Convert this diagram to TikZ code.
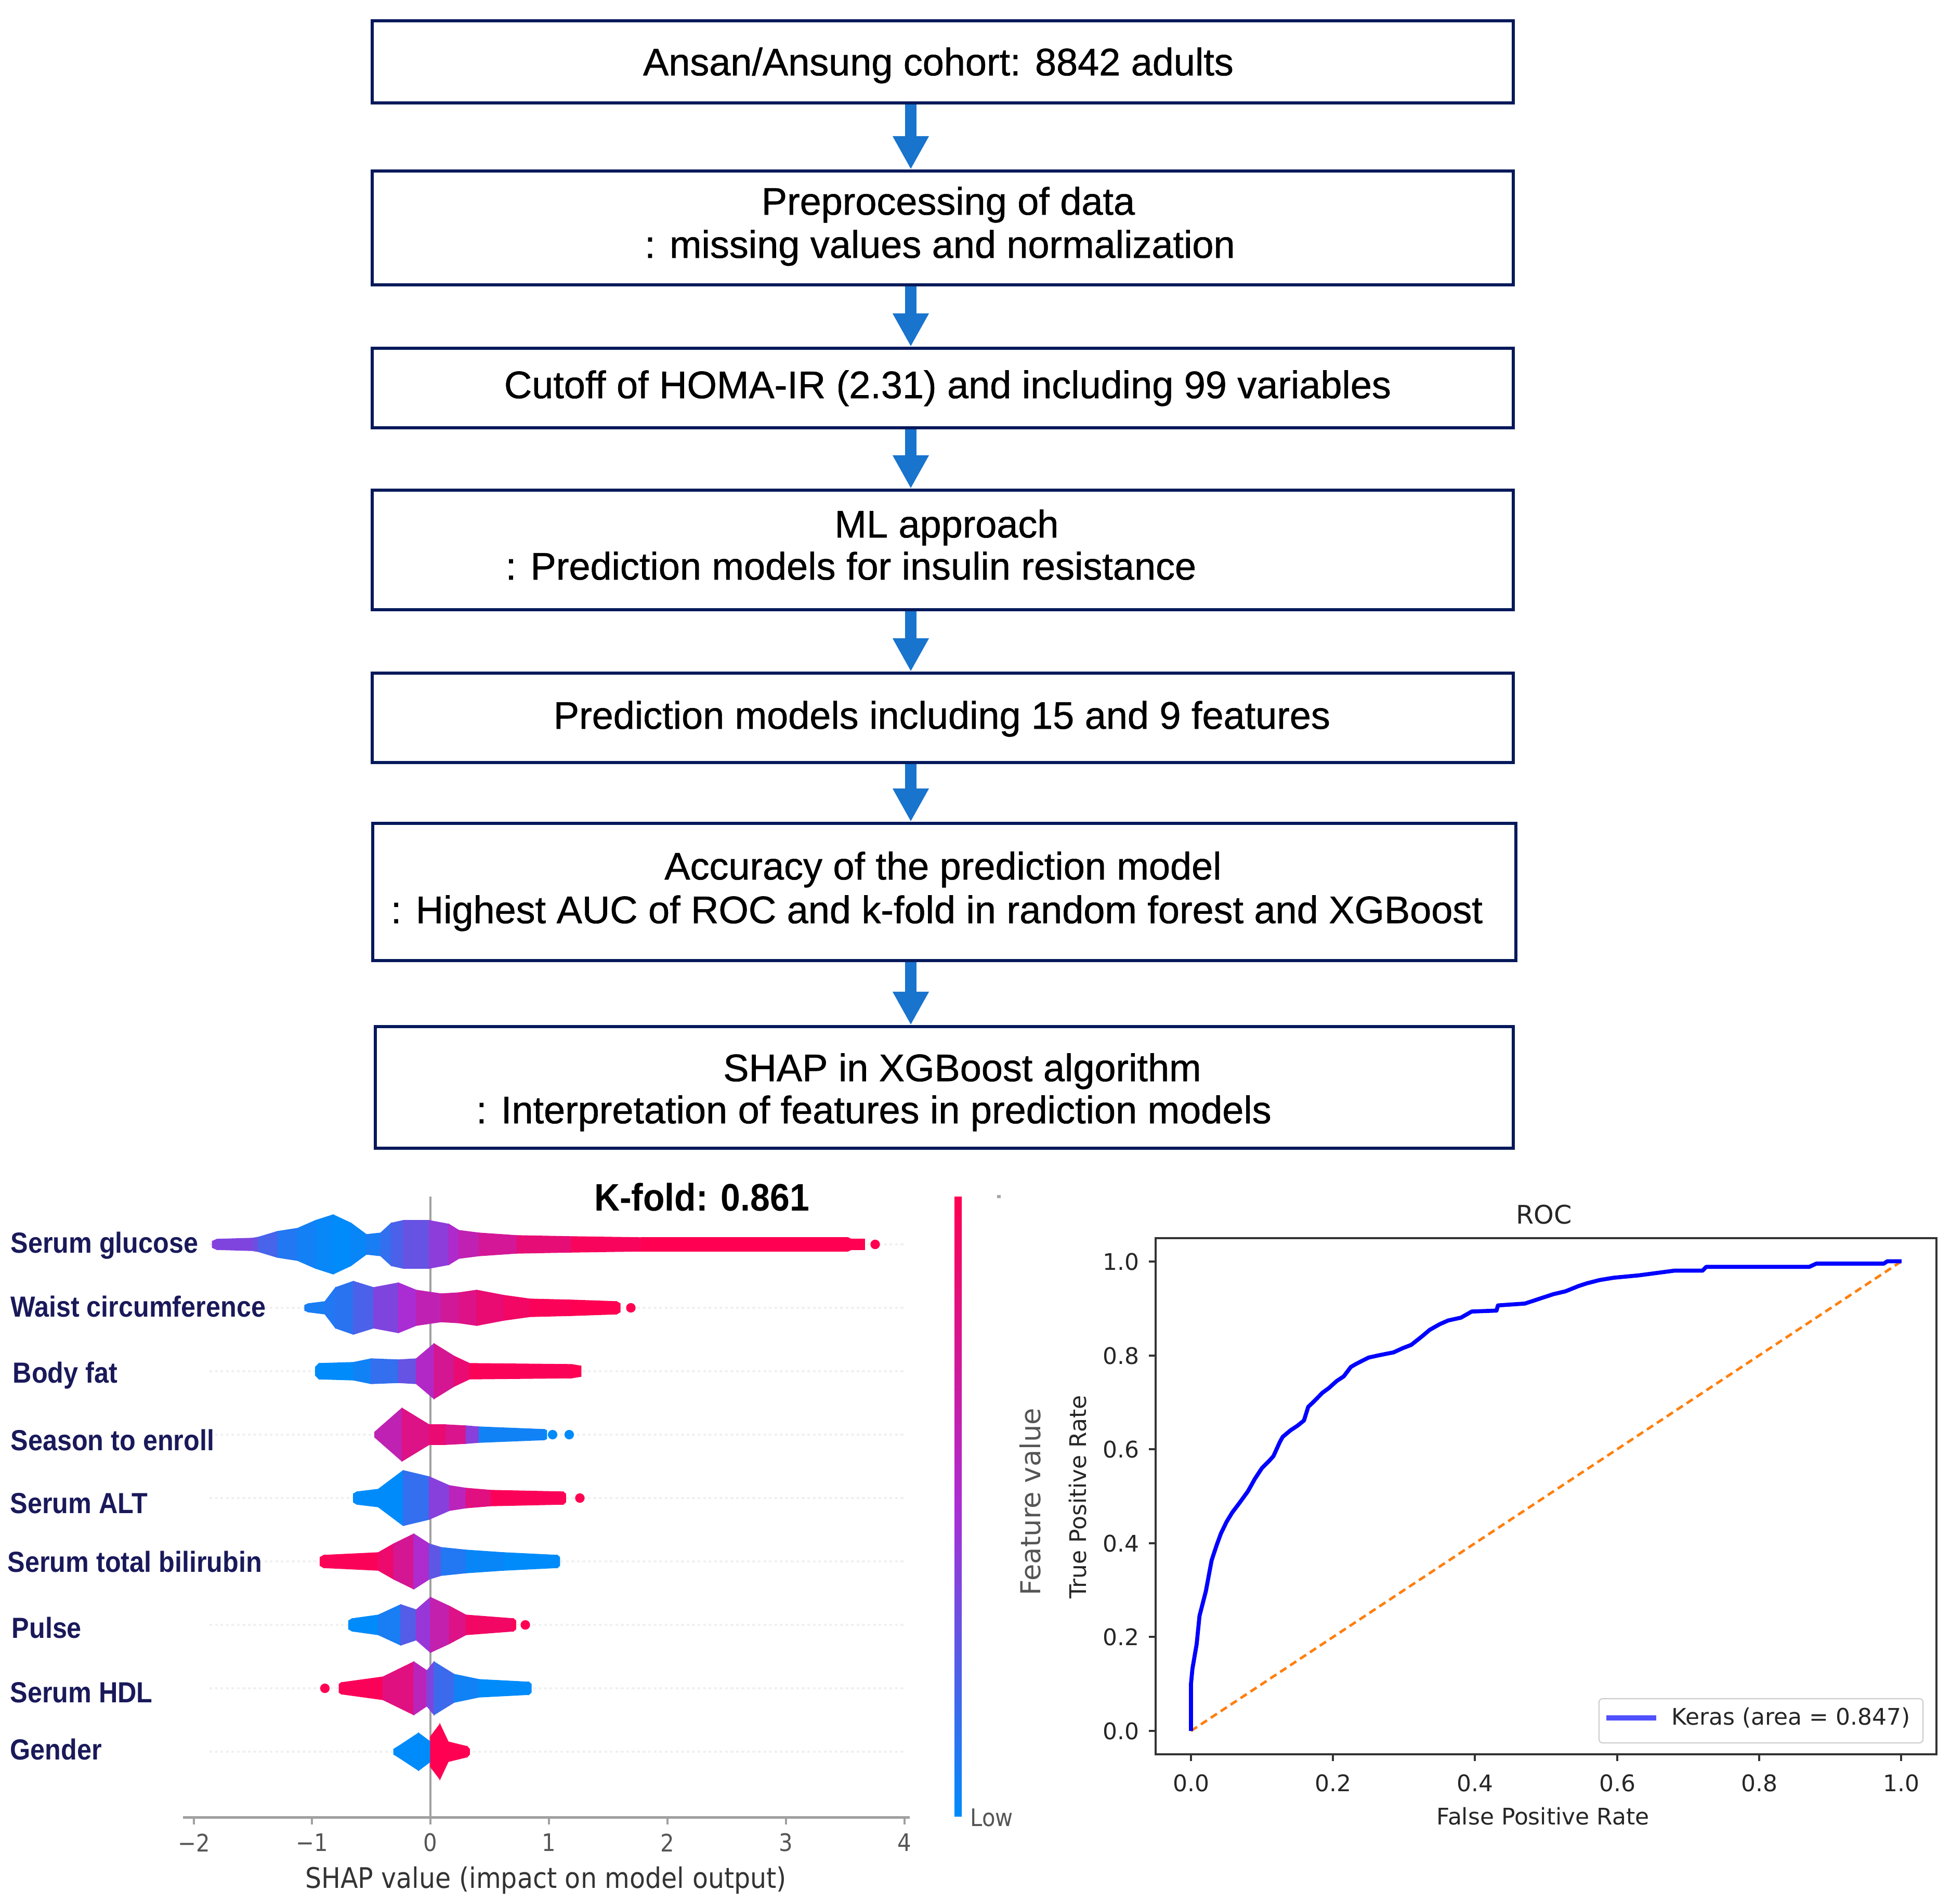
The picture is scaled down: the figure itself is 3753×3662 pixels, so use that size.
\documentclass[tikz,border=0pt]{standalone}
\usepackage{fontspec}
\usetikzlibrary{arrows.meta}
\newfontfamily\boxfont{Liberation Sans}[FakeBold=0.8]
\newfontfamily\labfont{Liberation Sans}[FakeStretch=0.9]
\newfontfamily\kfont{Liberation Sans}[FakeStretch=0.92]
\newfontfamily\plotfont{DejaVu Sans}[FakeStretch=0.9]
\newfontfamily\rocfont{DejaVu Sans}
\definecolor{navy}{RGB}{5,25,90}
\definecolor{arrblue}{RGB}{24,116,205}
\definecolor{shapblue}{RGB}{0,139,250}
\definecolor{shapred}{RGB}{255,0,82}
\definecolor{shappurple}{RGB}{170,45,212}
\definecolor{labnavy}{RGB}{25,25,90}
\definecolor{rocorange}{RGB}{255,127,14}
\definecolor{rocblue}{RGB}{0,0,255}
\definecolor{legblue}{RGB}{80,80,255}
\definecolor{txtgray}{RGB}{38,38,38}
\definecolor{shapgray}{RGB}{85,85,85}
\definecolor{axgray}{RGB}{160,160,160}

\newcommand\shapcol[1]{%
  \pgfmathsetmacro\mval{#1}%
  \ifdim\mval pt<50pt
    \pgfmathsetmacro\mpct{2*\mval}%
    \colorlet{swc}{shappurple!\mpct!shapblue}%
  \else
    \pgfmathsetmacro\mpct{2*(\mval-50)}%
    \colorlet{swc}{shapred!\mpct!shappurple}%
  \fi}

\newcommand\swarm[2]{%
  \begin{scope}[shift={(828,#1)},x=2.28cm]
  \foreach \s/\h/\m [count=\i, remember=\s as \ls (initially 0), remember=\h as \lh (initially 0), remember=\m as \lm (initially 0)] in {#2}{%
    \ifnum\i>1
      \shapcol{(\m+\lm)/2}%
      \filldraw[fill=swc,draw=swc,line width=0.4pt] (\ls,\lh) -- (\s,\h) -- (\s,-\h) -- (\ls,-\lh) -- cycle;
    \fi}
  \end{scope}}

\newcommand\sdot[3]{%
  \begin{scope}[shift={(828,#1)},x=2.28cm]
  \fill[#3] (#2,0) circle (2.6pt);
  \end{scope}}

\begin{document}
\begin{tikzpicture}[x=0.01cm,y=-0.01cm,
  flowbox/.style={draw=navy,line width=1.7pt,fill=white,inner sep=0pt,minimum width=21.93cm},
  boxtxt/.style={font=\boxfont\fontsize{21}{25}\selectfont,inner sep=0pt,anchor=base},
  flowarrow/.style={draw=arrblue,line width=6.26pt,-{Triangle[width=18.5pt,length=18.2pt]}},
  featlab/.style={font=\labfont\bfseries\fontsize{15.9}{18}\selectfont,text=labnavy,inner sep=0pt,anchor=base west},
  shaptick/.style={font=\plotfont\fontsize{13.2}{15}\selectfont,text=shapgray,inner sep=0pt},
  roctxt/.style={font=\rocfont\fontsize{12.5}{15}\selectfont,text=txtgray,inner sep=0pt},
  rowline/.style={draw=black!6,line width=1.2pt,dash pattern=on 1.5pt off 1.5pt}
]
\useasboundingbox (0,0) rectangle (3753,3662);
\fill[white] (0,0) rectangle (3753,3662);

% ---------------- flow chart ----------------
\node[flowbox,minimum height=1.58cm] (b1) at (1813.5,119) {};
\node[flowbox,minimum height=2.19cm] (b2) at (1813.5,438.5) {};
\node[flowbox,minimum height=1.53cm] (b3) at (1813.5,746.5) {};
\node[flowbox,minimum height=2.30cm] (b4) at (1813.5,1058) {};
\node[flowbox,minimum height=1.72cm] (b5) at (1813.5,1381) {};
\node[flowbox,minimum height=2.64cm,minimum width=21.97cm] (b6) at (1816.5,1716) {};
\node[flowbox,minimum height=2.34cm,minimum width=21.87cm] (b7) at (1816.5,2092) {};

\node[boxtxt] (t1) at (1805,145) {Ansan/Ansung cohort: 8842 adults};
\node[boxtxt] (t2a) at (1824,413) {Preprocessing of data};
\node[boxtxt] (t2b) at (1808,496) {: missing values and normalization};
\node[boxtxt] (t3) at (1823,766) {Cutoff of HOMA-IR (2.31) and including 99 variables};
\node[boxtxt] (t4a) at (1821,1034) {ML approach};
\node[boxtxt] (t4b) at (1637,1115) {: Prediction models for insulin resistance};
\node[boxtxt] (t5) at (1812,1402) {Prediction models including 15 and 9 features};
\node[boxtxt] (t6a) at (1814,1692) {Accuracy of the prediction model};
\node[boxtxt] (t6b) at (1802,1776) {: Highest AUC of ROC and k-fold in random forest and XGBoost};
\node[boxtxt] (t7a) at (1851,2080) {SHAP in XGBoost algorithm};
\node[boxtxt] (t7b) at (1681,2161) {: Interpretation of features in prediction models};

\coordinate (ax) at (1752,0);
\draw[flowarrow] (b1.south -| ax) -- (b2.north -| ax);
\draw[flowarrow] (b2.south -| ax) -- (b3.north -| ax);
\draw[flowarrow] (b3.south -| ax) -- (b4.north -| ax);
\draw[flowarrow] (b4.south -| ax) -- (b5.north -| ax);
\draw[flowarrow] (b5.south -| ax) -- (b6.north -| ax);
\draw[flowarrow] (b6.south -| ax) -- (b7.north -| ax);

% ---------------- SHAP summary plot ----------------
\foreach \yy in {2394,2516,2638,2760,2882,3004,3126,3248,3370}
  \draw[rowline] (403,\yy) -- (1740,\yy);
\draw[axgray,line width=1.1pt] (828,2302) -- (828,3496);

\swarm{2394}{-1.84/6/40, -1.80/10/40, -1.50/12/35, -1.45/14/30, -1.29/25/12, -1.12/31/8, -0.97/46/4, -0.82/57/0, -0.67/41/0, -0.54/19/5, -0.42/22/10, -0.33/41/20, -0.23/46/25, -0.01/46/35, 0.155/39/48, 0.24/27/58, 0.41/22/68, 0.73/17/80, 1.19/15/92, 1.78/13/100, 3.52/13/100, 3.55/10/100, 3.66/10/100}
\sdot{2394}{3.75}{shapred}
\swarm{2516}{-1.06/5/10, -1.03/8/5, -0.89/12/10, -0.80/39/10, -0.65/51/15, -0.48/39/30, -0.27/48/45, -0.12/34/55, 0.09/27/70, 0.24/29/75, 0.39/34/85, 0.62/24/90, 0.84/17/95, 1.19/15/100, 1.57/12/100, 1.60/8/100}
\sdot{2516}{1.69}{shapred}
\swarm{2638}{-0.97/8/0, -0.94/15/0, -0.65/17/0, -0.50/24/10, -0.27/22/20, -0.12/24/40, 0.03/53/70, 0.20/29/80, 0.33/15/95, 1.19/13/100, 1.27/10/100}
\swarm{2760}{-0.47/5/55, -0.24/51/70, -0.01/19/90, 0.13/19/85, 0.30/17/70, 0.41/15/10, 0.96/10/0, 0.98/8/0}
\sdot{2760}{1.03}{shapblue}
\sdot{2760}{1.17}{shapblue}
\swarm{2882}{-0.65/8/0, -0.62/12/0, -0.44/17/0, -0.23/53/0, -0.01/41/30, 0.16/24/50, 0.30/19/70, 0.51/15/95, 1.12/12/100, 1.14/8/100}
\sdot{2882}{1.26}{shapred}
\swarm{3004}{-0.93/8/100, -0.90/12/100, -0.44/17/95, -0.31/34/85, -0.14/53/65, -0.01/34/40, 0.09/27/15, 0.30/22/5, 0.62/17/0, 1.07/12/0, 1.09/8/0}
\swarm{3126}{-0.69/8/0, -0.66/12/0, -0.44/19/0, -0.25/39/15, -0.12/29/35, 0.00/53/55, 0.16/36/75, 0.30/19/85, 0.70/12/100, 0.72/8/100}
\sdot{3126}{0.80}{shapred}
\sdot{3248}{-0.89}{shapred}
\swarm{3248}{-0.77/8/100, -0.75/11/100, -0.40/22/95, -0.14/51/70, -0.03/34/50, 0.03/51/25, 0.20/27/10, 0.41/17/0, 0.83/12/0, 0.85/8/0}
\swarm{3370}{-0.31/5/0, -0.28/9/0, -0.10/36/0, 0.0/19/0}
\swarm{3370}{0.0/29/100, 0.08/53/100, 0.15/19/100, 0.31/10/100, 0.33/5/100}

\node[featlab] (f1) at (20,2410) {Serum glucose};
\node[featlab] (f2) at (20,2533) {Waist circumference};
\node[featlab] (f3) at (24,2660) {Body fat};
\node[featlab] (f4) at (20,2790) {Season to enroll};
\node[featlab] (f5) at (19,2911) {Serum ALT};
\node[featlab] (f6) at (14,3024) {Serum total bilirubin};
\node[featlab] (f7) at (22,3151) {Pulse};
\node[featlab] (f8) at (19,3275) {Serum HDL};
\node[featlab] (f9) at (19,3385) {Gender};

\node[font=\kfont\bfseries\fontsize{21}{24}\selectfont,inner sep=0pt,anchor=base] (kf) at (1350,2329) {K-fold: 0.861};

\draw[axgray,line width=1.4pt] (352,3496) -- (1750,3496);
\foreach \xx/\lab [count=\i] in {373/{−2},600/{−1},828/0,1056/1,1284/2,1512/3,1740/4}{
  \draw[axgray,line width=1.1pt] (\xx,3496) -- (\xx,3510);
  \node[shaptick] (sx\i) at (\xx,3545) {\lab};
}
\node[font=\plotfont\fontsize{15.5}{18}\selectfont,text=black!80,inner sep=0pt,anchor=base] (sxl) at (1050,3632) {SHAP value (impact on model output)};

\shade[top color=shapred,bottom color=shapblue,middle color=shappurple] (1836,2302) rectangle (1850,3494);
\node[shaptick,anchor=west] (low) at (1866,3497) {Low};
\fill[black!35] (1918,2299) rectangle (1925,2305);
\node[font=\rocfont\fontsize{15}{18}\selectfont,text=shapgray,rotate=90,inner sep=0pt] (fv) at (1982,2889) {Feature value};

% ---------------- ROC plot ----------------
\node[font=\rocfont\fontsize{14}{17}\selectfont,text=txtgray,inner sep=0pt] (roct) at (2970,2337) {ROC};
\foreach \yy/\lab [count=\i] in {3330/0.0,3149/0.2,2969/0.4,2788/0.6,2608/0.8,2427/1.0}{
  \draw[black!80,line width=1.1pt] (2223,\yy) -- (2210,\yy);
  \node[roctxt,anchor=east] (ry\i) at (2192,\yy) {\lab};
}
\foreach \xx/\lab [count=\i] in {2291/0.0,2564/0.2,2837/0.4,3111/0.6,3384/0.8,3657/1.0}{
  \draw[black!80,line width=1.1pt] (\xx,3375) -- (\xx,3388);
  \node[roctxt] (rx\i) at (\xx,3430) {\lab};
}
\node[roctxt] (rxl) at (2968,3494) {False Positive Rate};
\node[roctxt,rotate=90] (ryl) at (2073,2880) {True Positive Rate};

\begin{scope}[shift={(2291,3330)},x=13.66cm,y=9.03cm]
\draw[rocorange,line width=1.4pt,dash pattern=on 4pt off 2.5pt] (0,0) -- (1,1);
\draw[rocblue,line width=2.2pt,line join=round] plot coordinates {(0,0) (0.000,0.10) (0.002,0.132) (0.008,0.185) (0.012,0.245) (0.021,0.298) (0.029,0.363) (0.036,0.395) (0.042,0.42) (0.050,0.445) (0.058,0.465) (0.068,0.485) (0.080,0.51) (0.090,0.537) (0.100,0.56) (0.110,0.575) (0.116,0.585) (0.125,0.615) (0.129,0.626) (0.140,0.64) (0.150,0.65) (0.159,0.661) (0.165,0.69) (0.172,0.70) (0.185,0.72) (0.194,0.73) (0.205,0.745) (0.215,0.755) (0.225,0.775) (0.233,0.782) (0.250,0.795) (0.265,0.80) (0.285,0.806) (0.298,0.815) (0.310,0.822) (0.325,0.84) (0.336,0.854) (0.350,0.866) (0.362,0.874) (0.380,0.88) (0.395,0.893) (0.430,0.895) (0.432,0.906) (0.470,0.91) (0.492,0.921) (0.510,0.93) (0.527,0.936) (0.545,0.947) (0.557,0.953) (0.575,0.96) (0.595,0.965) (0.630,0.970) (0.655,0.975) (0.680,0.98) (0.720,0.98) (0.725,0.988) (0.870,0.988) (0.880,0.995) (0.975,0.995) (0.980,1.0) (1.0,1.0)};
\end{scope}
\draw[black!80,line width=1.1pt] (2223,2382) rectangle (3725,3375);

\node[draw=black!20,line width=0.6pt,rounded corners=2pt,fill=white,minimum width=6.23cm,minimum height=0.85cm,inner sep=0pt] (leg) at (3387.5,3310.5) {};
\coordinate (lg1) at (3090,3305);
\coordinate (lg2) at (3186,3305);
\draw[legblue,line width=3pt] (lg1) -- (lg2);
\node[roctxt,anchor=west] (legt) at (3215,3305) {Keras (area = 0.847)};
\end{tikzpicture}
\end{document}
